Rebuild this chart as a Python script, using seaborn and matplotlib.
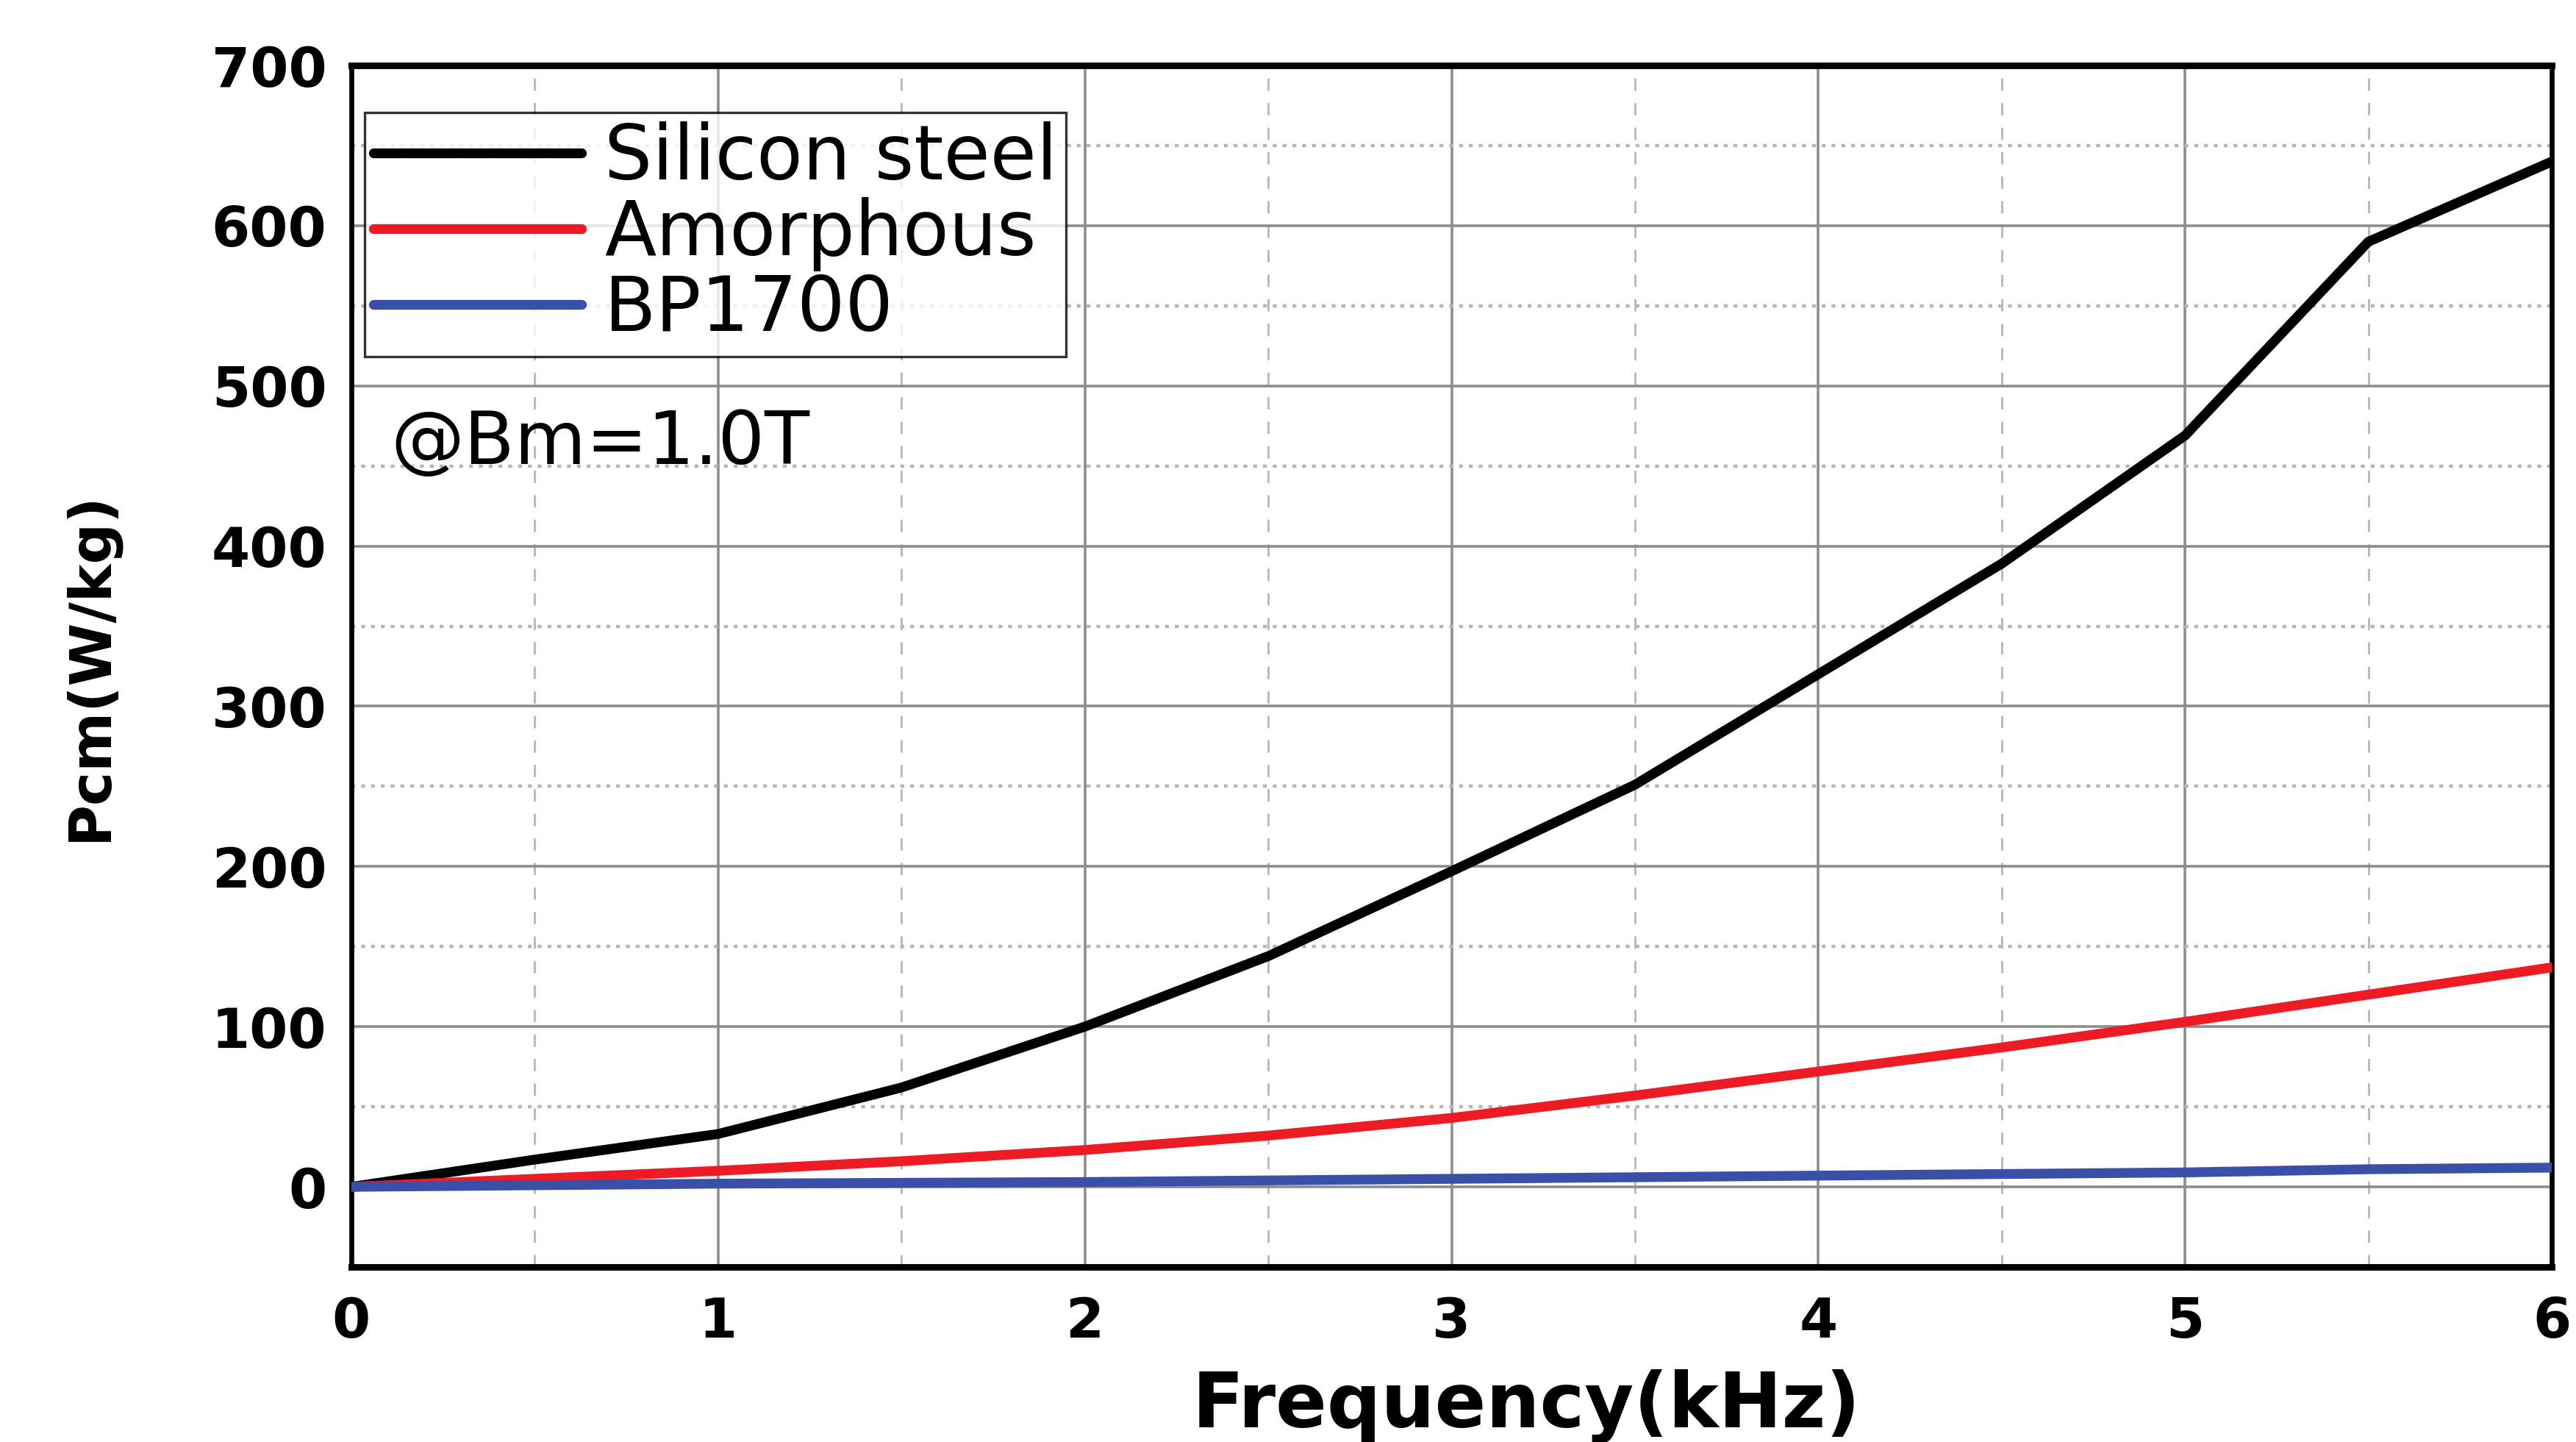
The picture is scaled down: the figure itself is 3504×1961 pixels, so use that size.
import numpy as np
import pandas as pd
import matplotlib
matplotlib.use("Agg")
import matplotlib.pyplot as plt
from matplotlib.ticker import MultipleLocator
import seaborn as sns

# Core loss vs. frequency at Bm = 1.0 T
freq_khz = [0, 0.5, 1, 1.5, 2, 2.5, 3, 3.5, 4, 4.5, 5, 5.5, 6]
silicon_steel = [0, 17, 33, 62, 100, 144, 197, 251, 320, 389, 469, 590, 640]
amorphous = [0, 5, 10, 16, 23, 32, 43, 57, 72, 87, 103, 120, 137]
bp1700 = [0, 1, 2, 2.5, 3, 4, 5, 6, 7, 8, 9, 11, 12]

series_names = ["Silicon steel", "Amorphous", "BP1700"]
series_colors = ["#000000", "#ED1C24", "#3A4FA8"]

df = pd.concat([
    pd.DataFrame({"f": freq_khz, "P": vals, "Material": name})
    for name, vals in zip(series_names, [silicon_steel, amorphous, bp1700])
], ignore_index=True)

sns.set_theme(style="white")
plt.rcParams["font.family"] = ["DejaVu Sans"]
plt.rcParams["text.color"] = "black"
plt.rcParams["axes.labelcolor"] = "black"
plt.rcParams["xtick.color"] = "black"
plt.rcParams["ytick.color"] = "black"

fig = plt.figure(figsize=(17.52, 9.805), dpi=200)
ax = fig.add_axes([0.1364, 0.1214, 0.8542, 0.8332])

sns.lineplot(data=df, x="f", y="P", hue="Material", hue_order=series_names,
             palette=series_colors, linewidth=4.8, ax=ax, legend=True,
             zorder=3)

ax.set_xlim(0, 6)
ax.set_ylim(-50, 700)
ax.xaxis.set_major_locator(MultipleLocator(1))
ax.xaxis.set_minor_locator(MultipleLocator(0.5))
ax.yaxis.set_major_locator(MultipleLocator(100))
ax.yaxis.set_minor_locator(MultipleLocator(50))

ax.grid(which="major", color="#8c8c8c", linewidth=1.3, linestyle="-", zorder=0)
ax.xaxis.grid(which="minor", color="#bdb3b0", linewidth=1.0, linestyle=(0, (6, 6)))
ax.yaxis.grid(which="minor", color="#bdb3b0", linewidth=1.6, linestyle=(0, (1.2, 1.8)))
ax.set_axisbelow(True)

for name, s in ax.spines.items():
    s.set_visible(True)
    s.set_color("black")
    s.set_linewidth(3.2 if name in ("top", "bottom") else 2.4)

ax.tick_params(which="both", length=0, colors="black")
ax.tick_params(axis="x", pad=14)
ax.tick_params(axis="y", pad=12)
for lbl in ax.get_xticklabels() + ax.get_yticklabels():
    lbl.set_fontsize(27)
    lbl.set_fontweight("bold")
    lbl.set_color("black")

ax.set_xlabel("Frequency(kHz)", fontsize=37, fontweight="bold", color="black")
ax.xaxis.set_label_coords(0.534, -0.085)
ax.set_ylabel("Pcm(W/kg)", fontsize=28, fontweight="bold", color="black")
ax.yaxis.set_label_coords(-0.106, 0.5)

leg = ax.legend(loc="upper left", bbox_to_anchor=(0.006, 0.961), borderaxespad=0,
                fontsize=37, frameon=True, fancybox=False, handlelength=2.75,
                handletextpad=0.3, labelspacing=0.02, borderpad=0.12, title=None)
leg.get_frame().set_edgecolor("black")
leg.get_frame().set_linewidth(1.2)
for line in leg.get_lines():
    line.set_linewidth(4.8)
for t in leg.get_texts():
    t.set_color("black")

ax.text(0.018, 0.685, "@Bm=1.0T", transform=ax.transAxes, fontsize=36,
        ha="left", va="center", color="black")

fig.savefig("out.png", dpi=200)
